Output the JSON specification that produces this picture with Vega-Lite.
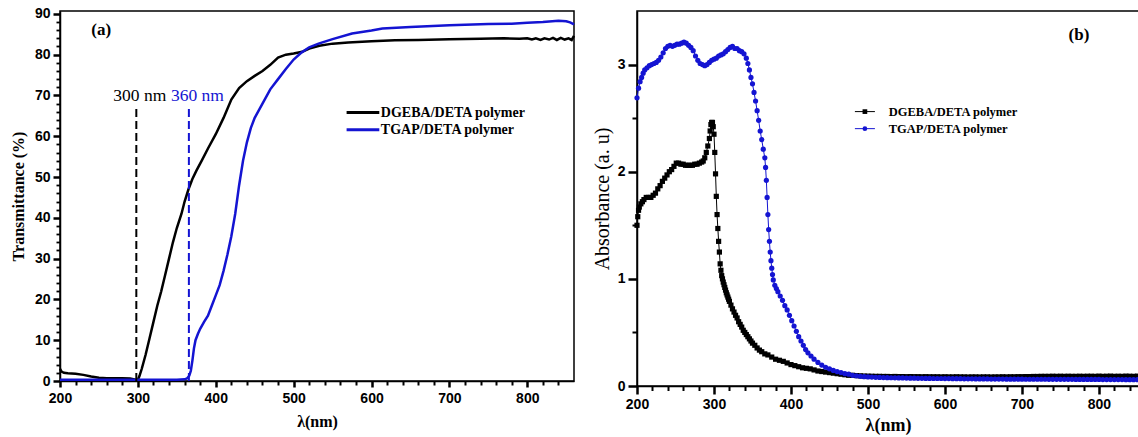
{
"$schema": "https://vega.github.io/schema/vega-lite/v6.json",
"padding": {"left": 9, "top": 6, "right": 0, "bottom": 0},
"spacing": 11,
"background": "white",
"config": {
  "view": {"stroke": "#000000", "strokeWidth": 1.5},
  "axis": {"grid": false, "ticks": true, "tickOpacity": 1, "labelFont": "Liberation Sans", "labelFontWeight": "bold", "labelFontSize": 14, "labelColor": "#000000", "tickColor": "#000000", "tickWidth": 2.5, "domainColor": "#000000", "domainWidth": 1.5, "titleColor": "#000000", "titleFont": "Liberation Serif", "labelOverlap": false, "labelFlush": false},
  "text": {"font": "Liberation Serif", "color": "#000000"}
},
"resolve": {"scale": {"color": "independent", "shape": "independent"}, "legend": {"color": "independent", "shape": "independent"}},
"datasets": {
"trans": [
{"w":200,"T":3.0,"s":"DGEBA"},{"w":202,"T":2.3,"s":"DGEBA"},{"w":205,"T":2.0,"s":"DGEBA"},{"w":210,"T":1.9,"s":"DGEBA"},{"w":220,"T":1.8,"s":"DGEBA"},{"w":230,"T":1.5,"s":"DGEBA"},{"w":240,"T":1.1,"s":"DGEBA"},{"w":250,"T":0.8,"s":"DGEBA"},{"w":260,"T":0.7,"s":"DGEBA"},{"w":270,"T":0.7,"s":"DGEBA"},{"w":280,"T":0.7,"s":"DGEBA"},{"w":290,"T":0.6,"s":"DGEBA"},{"w":296,"T":0.4,"s":"DGEBA"},{"w":300,"T":0.3,"s":"DGEBA"},{"w":302,"T":1.2,"s":"DGEBA"},{"w":305,"T":3.0,"s":"DGEBA"},{"w":310,"T":6.5,"s":"DGEBA"},{"w":315,"T":10.5,"s":"DGEBA"},{"w":320,"T":14.5,"s":"DGEBA"},{"w":325,"T":18.5,"s":"DGEBA"},{"w":330,"T":22,"s":"DGEBA"},{"w":335,"T":26,"s":"DGEBA"},{"w":340,"T":30,"s":"DGEBA"},{"w":345,"T":34,"s":"DGEBA"},{"w":350,"T":37.5,"s":"DGEBA"},{"w":356,"T":41,"s":"DGEBA"},{"w":360,"T":44,"s":"DGEBA"},{"w":365,"T":47,"s":"DGEBA"},{"w":370,"T":49.5,"s":"DGEBA"},{"w":375,"T":51.5,"s":"DGEBA"},{"w":382,"T":54,"s":"DGEBA"},{"w":390,"T":57,"s":"DGEBA"},{"w":400,"T":60.5,"s":"DGEBA"},{"w":410,"T":64.5,"s":"DGEBA"},{"w":420,"T":69,"s":"DGEBA"},{"w":430,"T":71.8,"s":"DGEBA"},{"w":440,"T":73.5,"s":"DGEBA"},{"w":450,"T":74.8,"s":"DGEBA"},{"w":460,"T":76,"s":"DGEBA"},{"w":470,"T":77.5,"s":"DGEBA"},{"w":480,"T":79.3,"s":"DGEBA"},{"w":490,"T":80,"s":"DGEBA"},{"w":500,"T":80.3,"s":"DGEBA"},{"w":511,"T":80.7,"s":"DGEBA"},{"w":520,"T":81.5,"s":"DGEBA"},{"w":533,"T":82.2,"s":"DGEBA"},{"w":550,"T":82.7,"s":"DGEBA"},{"w":570,"T":83,"s":"DGEBA"},{"w":600,"T":83.3,"s":"DGEBA"},{"w":630,"T":83.5,"s":"DGEBA"},{"w":660,"T":83.6,"s":"DGEBA"},{"w":700,"T":83.8,"s":"DGEBA"},{"w":740,"T":83.9,"s":"DGEBA"},{"w":770,"T":84,"s":"DGEBA"},{"w":790,"T":83.9,"s":"DGEBA"},{"w":800,"T":84,"s":"DGEBA"},{"w":806,"T":83.7,"s":"DGEBA"},{"w":811,"T":84.0,"s":"DGEBA"},{"w":817,"T":83.6,"s":"DGEBA"},{"w":822,"T":84.0,"s":"DGEBA"},{"w":828,"T":83.7,"s":"DGEBA"},{"w":833,"T":84.1,"s":"DGEBA"},{"w":838,"T":83.6,"s":"DGEBA"},{"w":843,"T":84.1,"s":"DGEBA"},{"w":848,"T":83.7,"s":"DGEBA"},{"w":853,"T":84.0,"s":"DGEBA"},{"w":857,"T":83.6,"s":"DGEBA"},{"w":860,"T":84.6,"s":"DGEBA"},
{"w":200,"T":0.3,"s":"TGAP"},{"w":250,"T":0.3,"s":"TGAP"},{"w":300,"T":0.3,"s":"TGAP"},{"w":350,"T":0.3,"s":"TGAP"},{"w":360,"T":0.4,"s":"TGAP"},{"w":363,"T":0.6,"s":"TGAP"},{"w":366,"T":1.3,"s":"TGAP"},{"w":368,"T":2.5,"s":"TGAP"},{"w":370,"T":5,"s":"TGAP"},{"w":372,"T":8,"s":"TGAP"},{"w":374,"T":10,"s":"TGAP"},{"w":377,"T":11.5,"s":"TGAP"},{"w":380,"T":12.8,"s":"TGAP"},{"w":385,"T":14.5,"s":"TGAP"},{"w":390,"T":16,"s":"TGAP"},{"w":395,"T":18.5,"s":"TGAP"},{"w":400,"T":21,"s":"TGAP"},{"w":405,"T":23.5,"s":"TGAP"},{"w":410,"T":27,"s":"TGAP"},{"w":415,"T":31,"s":"TGAP"},{"w":420,"T":35.5,"s":"TGAP"},{"w":425,"T":41,"s":"TGAP"},{"w":430,"T":48,"s":"TGAP"},{"w":435,"T":54,"s":"TGAP"},{"w":440,"T":58.5,"s":"TGAP"},{"w":445,"T":62,"s":"TGAP"},{"w":450,"T":64.5,"s":"TGAP"},{"w":460,"T":68,"s":"TGAP"},{"w":470,"T":71.5,"s":"TGAP"},{"w":480,"T":74,"s":"TGAP"},{"w":490,"T":76.5,"s":"TGAP"},{"w":500,"T":78.8,"s":"TGAP"},{"w":510,"T":80.5,"s":"TGAP"},{"w":520,"T":81.8,"s":"TGAP"},{"w":532,"T":82.7,"s":"TGAP"},{"w":550,"T":83.8,"s":"TGAP"},{"w":575,"T":85.2,"s":"TGAP"},{"w":600,"T":85.9,"s":"TGAP"},{"w":614,"T":86.4,"s":"TGAP"},{"w":650,"T":86.8,"s":"TGAP"},{"w":700,"T":87.2,"s":"TGAP"},{"w":750,"T":87.5,"s":"TGAP"},{"w":780,"T":87.6,"s":"TGAP"},{"w":800,"T":87.8,"s":"TGAP"},{"w":820,"T":88,"s":"TGAP"},{"w":840,"T":88.3,"s":"TGAP"},{"w":850,"T":88.2,"s":"TGAP"},{"w":855,"T":87.9,"s":"TGAP"},{"w":860,"T":87.4,"s":"TGAP"}
],
"cutoff": [{"w":298,"s":"DGEBA"},{"w":365.5,"s":"TGAP"}],
"abs": [
{"w":200,"A":1.50,"s":"DGEBA"},{"w":201,"A":1.58,"s":"DGEBA"},{"w":202,"A":1.64,"s":"DGEBA"},{"w":203,"A":1.67,"s":"DGEBA"},{"w":205,"A":1.70,"s":"DGEBA"},{"w":207,"A":1.72,"s":"DGEBA"},{"w":209,"A":1.74,"s":"DGEBA"},{"w":212,"A":1.76,"s":"DGEBA"},{"w":215,"A":1.76,"s":"DGEBA"},{"w":218,"A":1.76,"s":"DGEBA"},{"w":221,"A":1.78,"s":"DGEBA"},{"w":224,"A":1.80,"s":"DGEBA"},{"w":227,"A":1.84,"s":"DGEBA"},{"w":230,"A":1.87,"s":"DGEBA"},{"w":233,"A":1.91,"s":"DGEBA"},{"w":236,"A":1.94,"s":"DGEBA"},{"w":239,"A":1.97,"s":"DGEBA"},{"w":242,"A":2.00,"s":"DGEBA"},{"w":245,"A":2.02,"s":"DGEBA"},{"w":248,"A":2.05,"s":"DGEBA"},{"w":251,"A":2.08,"s":"DGEBA"},{"w":254,"A":2.08,"s":"DGEBA"},{"w":257,"A":2.07,"s":"DGEBA"},{"w":260,"A":2.07,"s":"DGEBA"},{"w":263,"A":2.06,"s":"DGEBA"},{"w":266,"A":2.06,"s":"DGEBA"},{"w":269,"A":2.06,"s":"DGEBA"},{"w":272,"A":2.06,"s":"DGEBA"},{"w":275,"A":2.07,"s":"DGEBA"},{"w":278,"A":2.07,"s":"DGEBA"},{"w":281,"A":2.08,"s":"DGEBA"},{"w":284,"A":2.09,"s":"DGEBA"},{"w":286,"A":2.10,"s":"DGEBA"},{"w":288,"A":2.13,"s":"DGEBA"},{"w":290,"A":2.18,"s":"DGEBA"},{"w":292,"A":2.24,"s":"DGEBA"},{"w":294,"A":2.31,"s":"DGEBA"},{"w":295,"A":2.38,"s":"DGEBA"},{"w":296,"A":2.44,"s":"DGEBA"},{"w":297,"A":2.46,"s":"DGEBA"},{"w":298,"A":2.46,"s":"DGEBA"},{"w":299,"A":2.42,"s":"DGEBA"},{"w":300,"A":2.35,"s":"DGEBA"},{"w":301,"A":2.18,"s":"DGEBA"},{"w":302,"A":1.98,"s":"DGEBA"},{"w":303,"A":1.77,"s":"DGEBA"},{"w":304,"A":1.60,"s":"DGEBA"},{"w":305,"A":1.47,"s":"DGEBA"},{"w":306,"A":1.35,"s":"DGEBA"},{"w":307,"A":1.25,"s":"DGEBA"},{"w":308,"A":1.14,"s":"DGEBA"},{"w":309,"A":1.08,"s":"DGEBA"},{"w":310,"A":1.03,"s":"DGEBA"},{"w":311,"A":1.00,"s":"DGEBA"},{"w":312,"A":0.97,"s":"DGEBA"},{"w":313,"A":0.945,"s":"DGEBA"},{"w":314,"A":0.92,"s":"DGEBA"},{"w":315,"A":0.895,"s":"DGEBA"},{"w":316,"A":0.87,"s":"DGEBA"},{"w":317,"A":0.85,"s":"DGEBA"},{"w":318,"A":0.83,"s":"DGEBA"},{"w":319,"A":0.81,"s":"DGEBA"},{"w":320,"A":0.79,"s":"DGEBA"},{"w":322,"A":0.755,"s":"DGEBA"},{"w":324,"A":0.72,"s":"DGEBA"},{"w":326,"A":0.69,"s":"DGEBA"},{"w":328,"A":0.66,"s":"DGEBA"},{"w":330,"A":0.635,"s":"DGEBA"},{"w":332,"A":0.60,"s":"DGEBA"},{"w":334,"A":0.575,"s":"DGEBA"},{"w":336,"A":0.55,"s":"DGEBA"},{"w":338,"A":0.52,"s":"DGEBA"},{"w":340,"A":0.50,"s":"DGEBA"},{"w":342,"A":0.48,"s":"DGEBA"},{"w":344,"A":0.46,"s":"DGEBA"},{"w":346,"A":0.44,"s":"DGEBA"},{"w":348,"A":0.42,"s":"DGEBA"},{"w":350,"A":0.40,"s":"DGEBA"},{"w":353,"A":0.38,"s":"DGEBA"},{"w":356,"A":0.355,"s":"DGEBA"},{"w":359,"A":0.335,"s":"DGEBA"},{"w":362,"A":0.32,"s":"DGEBA"},{"w":366,"A":0.30,"s":"DGEBA"},{"w":370,"A":0.29,"s":"DGEBA"},{"w":375,"A":0.27,"s":"DGEBA"},{"w":380,"A":0.25,"s":"DGEBA"},{"w":385,"A":0.24,"s":"DGEBA"},{"w":390,"A":0.23,"s":"DGEBA"},{"w":395,"A":0.215,"s":"DGEBA"},{"w":400,"A":0.20,"s":"DGEBA"},{"w":405,"A":0.19,"s":"DGEBA"},{"w":410,"A":0.18,"s":"DGEBA"},{"w":415,"A":0.17,"s":"DGEBA"},{"w":420,"A":0.165,"s":"DGEBA"},{"w":425,"A":0.16,"s":"DGEBA"},{"w":430,"A":0.15,"s":"DGEBA"},{"w":435,"A":0.14,"s":"DGEBA"},{"w":440,"A":0.135,"s":"DGEBA"},{"w":445,"A":0.13,"s":"DGEBA"},{"w":450,"A":0.125,"s":"DGEBA"},{"w":455,"A":0.12,"s":"DGEBA"},{"w":460,"A":0.115,"s":"DGEBA"},{"w":465,"A":0.11,"s":"DGEBA"},{"w":470,"A":0.105,"s":"DGEBA"},{"w":475,"A":0.10,"s":"DGEBA"},{"w":480,"A":0.10,"s":"DGEBA"},{"w":485,"A":0.097,"s":"DGEBA"},{"w":490,"A":0.095,"s":"DGEBA"},{"w":495,"A":0.093,"s":"DGEBA"},{"w":500,"A":0.092,"s":"DGEBA"},
{"w":505,"A":0.091,"s":"DGEBA"},{"w":510,"A":0.090,"s":"DGEBA"},{"w":515,"A":0.090,"s":"DGEBA"},{"w":520,"A":0.089,"s":"DGEBA"},{"w":525,"A":0.089,"s":"DGEBA"},{"w":530,"A":0.088,"s":"DGEBA"},{"w":535,"A":0.089,"s":"DGEBA"},{"w":540,"A":0.088,"s":"DGEBA"},{"w":545,"A":0.088,"s":"DGEBA"},{"w":550,"A":0.087,"s":"DGEBA"},{"w":555,"A":0.088,"s":"DGEBA"},{"w":560,"A":0.087,"s":"DGEBA"},{"w":565,"A":0.087,"s":"DGEBA"},{"w":570,"A":0.086,"s":"DGEBA"},{"w":575,"A":0.087,"s":"DGEBA"},{"w":580,"A":0.086,"s":"DGEBA"},{"w":585,"A":0.086,"s":"DGEBA"},{"w":590,"A":0.086,"s":"DGEBA"},{"w":595,"A":0.085,"s":"DGEBA"},{"w":600,"A":0.086,"s":"DGEBA"},{"w":605,"A":0.085,"s":"DGEBA"},{"w":610,"A":0.085,"s":"DGEBA"},{"w":615,"A":0.086,"s":"DGEBA"},{"w":620,"A":0.085,"s":"DGEBA"},{"w":625,"A":0.085,"s":"DGEBA"},{"w":630,"A":0.084,"s":"DGEBA"},{"w":635,"A":0.085,"s":"DGEBA"},{"w":640,"A":0.085,"s":"DGEBA"},{"w":645,"A":0.084,"s":"DGEBA"},{"w":650,"A":0.085,"s":"DGEBA"},{"w":655,"A":0.085,"s":"DGEBA"},{"w":660,"A":0.084,"s":"DGEBA"},{"w":665,"A":0.085,"s":"DGEBA"},{"w":670,"A":0.085,"s":"DGEBA"},{"w":675,"A":0.086,"s":"DGEBA"},{"w":680,"A":0.085,"s":"DGEBA"},{"w":685,"A":0.086,"s":"DGEBA"},{"w":690,"A":0.086,"s":"DGEBA"},{"w":695,"A":0.087,"s":"DGEBA"},{"w":700,"A":0.087,"s":"DGEBA"},{"w":705,"A":0.088,"s":"DGEBA"},{"w":710,"A":0.088,"s":"DGEBA"},{"w":715,"A":0.089,"s":"DGEBA"},{"w":720,"A":0.089,"s":"DGEBA"},{"w":725,"A":0.090,"s":"DGEBA"},{"w":730,"A":0.090,"s":"DGEBA"},{"w":735,"A":0.090,"s":"DGEBA"},{"w":740,"A":0.091,"s":"DGEBA"},{"w":745,"A":0.090,"s":"DGEBA"},{"w":750,"A":0.091,"s":"DGEBA"},{"w":755,"A":0.090,"s":"DGEBA"},{"w":760,"A":0.091,"s":"DGEBA"},{"w":765,"A":0.090,"s":"DGEBA"},{"w":770,"A":0.090,"s":"DGEBA"},{"w":775,"A":0.091,"s":"DGEBA"},{"w":780,"A":0.090,"s":"DGEBA"},{"w":785,"A":0.091,"s":"DGEBA"},{"w":790,"A":0.091,"s":"DGEBA"},{"w":795,"A":0.090,"s":"DGEBA"},{"w":800,"A":0.092,"s":"DGEBA"},{"w":805,"A":0.090,"s":"DGEBA"},{"w":810,"A":0.091,"s":"DGEBA"},{"w":815,"A":0.092,"s":"DGEBA"},{"w":820,"A":0.090,"s":"DGEBA"},{"w":825,"A":0.091,"s":"DGEBA"},{"w":830,"A":0.090,"s":"DGEBA"},{"w":835,"A":0.092,"s":"DGEBA"},{"w":840,"A":0.091,"s":"DGEBA"},{"w":845,"A":0.090,"s":"DGEBA"},{"w":850,"A":0.092,"s":"DGEBA"},
{"w":200,"A":2.69,"s":"TGAP"},{"w":202,"A":2.78,"s":"TGAP"},{"w":204,"A":2.84,"s":"TGAP"},{"w":206,"A":2.88,"s":"TGAP"},{"w":208,"A":2.92,"s":"TGAP"},{"w":210,"A":2.95,"s":"TGAP"},{"w":213,"A":2.97,"s":"TGAP"},{"w":216,"A":2.99,"s":"TGAP"},{"w":219,"A":3.00,"s":"TGAP"},{"w":222,"A":3.01,"s":"TGAP"},{"w":225,"A":3.02,"s":"TGAP"},{"w":228,"A":3.04,"s":"TGAP"},{"w":231,"A":3.07,"s":"TGAP"},{"w":234,"A":3.11,"s":"TGAP"},{"w":237,"A":3.15,"s":"TGAP"},{"w":240,"A":3.17,"s":"TGAP"},{"w":243,"A":3.18,"s":"TGAP"},{"w":246,"A":3.17,"s":"TGAP"},{"w":249,"A":3.18,"s":"TGAP"},{"w":252,"A":3.19,"s":"TGAP"},{"w":255,"A":3.19,"s":"TGAP"},{"w":258,"A":3.20,"s":"TGAP"},{"w":261,"A":3.21,"s":"TGAP"},{"w":264,"A":3.20,"s":"TGAP"},{"w":267,"A":3.18,"s":"TGAP"},{"w":270,"A":3.16,"s":"TGAP"},{"w":273,"A":3.13,"s":"TGAP"},{"w":276,"A":3.08,"s":"TGAP"},{"w":279,"A":3.04,"s":"TGAP"},{"w":282,"A":3.01,"s":"TGAP"},{"w":285,"A":3.00,"s":"TGAP"},{"w":288,"A":2.99,"s":"TGAP"},{"w":291,"A":3.00,"s":"TGAP"},{"w":294,"A":3.02,"s":"TGAP"},{"w":297,"A":3.04,"s":"TGAP"},{"w":300,"A":3.05,"s":"TGAP"},{"w":303,"A":3.06,"s":"TGAP"},{"w":306,"A":3.08,"s":"TGAP"},{"w":309,"A":3.09,"s":"TGAP"},{"w":312,"A":3.10,"s":"TGAP"},{"w":315,"A":3.12,"s":"TGAP"},{"w":318,"A":3.14,"s":"TGAP"},{"w":321,"A":3.16,"s":"TGAP"},{"w":324,"A":3.17,"s":"TGAP"},{"w":327,"A":3.15,"s":"TGAP"},{"w":330,"A":3.15,"s":"TGAP"},{"w":333,"A":3.13,"s":"TGAP"},{"w":336,"A":3.12,"s":"TGAP"},{"w":339,"A":3.10,"s":"TGAP"},{"w":342,"A":3.06,"s":"TGAP"},{"w":344,"A":3.01,"s":"TGAP"},{"w":346,"A":2.95,"s":"TGAP"},{"w":348,"A":2.88,"s":"TGAP"},{"w":350,"A":2.82,"s":"TGAP"},{"w":352,"A":2.74,"s":"TGAP"},{"w":354,"A":2.66,"s":"TGAP"},{"w":356,"A":2.57,"s":"TGAP"},{"w":358,"A":2.48,"s":"TGAP"},{"w":360,"A":2.38,"s":"TGAP"},{"w":362,"A":2.30,"s":"TGAP"},{"w":364,"A":2.21,"s":"TGAP"},{"w":366,"A":2.13,"s":"TGAP"},{"w":367,"A":2.04,"s":"TGAP"},{"w":368,"A":1.92,"s":"TGAP"},{"w":369,"A":1.76,"s":"TGAP"},{"w":370,"A":1.60,"s":"TGAP"},{"w":371,"A":1.46,"s":"TGAP"},{"w":372,"A":1.35,"s":"TGAP"},{"w":373,"A":1.25,"s":"TGAP"},{"w":374,"A":1.17,"s":"TGAP"},{"w":375,"A":1.10,"s":"TGAP"},{"w":376,"A":1.04,"s":"TGAP"},{"w":377,"A":0.99,"s":"TGAP"},{"w":379,"A":0.94,"s":"TGAP"},{"w":381,"A":0.91,"s":"TGAP"},{"w":383,"A":0.88,"s":"TGAP"},{"w":386,"A":0.84,"s":"TGAP"},{"w":389,"A":0.80,"s":"TGAP"},{"w":392,"A":0.75,"s":"TGAP"},{"w":395,"A":0.71,"s":"TGAP"},{"w":398,"A":0.66,"s":"TGAP"},{"w":401,"A":0.61,"s":"TGAP"},{"w":404,"A":0.56,"s":"TGAP"},{"w":407,"A":0.51,"s":"TGAP"},{"w":410,"A":0.46,"s":"TGAP"},{"w":413,"A":0.42,"s":"TGAP"},{"w":416,"A":0.38,"s":"TGAP"},{"w":419,"A":0.34,"s":"TGAP"},{"w":422,"A":0.31,"s":"TGAP"},{"w":426,"A":0.28,"s":"TGAP"},{"w":430,"A":0.25,"s":"TGAP"},{"w":435,"A":0.22,"s":"TGAP"},{"w":440,"A":0.195,"s":"TGAP"},{"w":445,"A":0.175,"s":"TGAP"},{"w":450,"A":0.16,"s":"TGAP"},{"w":455,"A":0.145,"s":"TGAP"},{"w":460,"A":0.135,"s":"TGAP"},{"w":465,"A":0.125,"s":"TGAP"},{"w":470,"A":0.115,"s":"TGAP"},{"w":475,"A":0.11,"s":"TGAP"},{"w":480,"A":0.10,"s":"TGAP"},{"w":485,"A":0.095,"s":"TGAP"},{"w":490,"A":0.09,"s":"TGAP"},{"w":495,"A":0.087,"s":"TGAP"},{"w":500,"A":0.085,"s":"TGAP"},
{"w":505,"A":0.083,"s":"TGAP"},{"w":510,"A":0.081,"s":"TGAP"},{"w":515,"A":0.080,"s":"TGAP"},{"w":520,"A":0.079,"s":"TGAP"},{"w":525,"A":0.078,"s":"TGAP"},{"w":530,"A":0.077,"s":"TGAP"},{"w":535,"A":0.076,"s":"TGAP"},{"w":540,"A":0.075,"s":"TGAP"},{"w":545,"A":0.075,"s":"TGAP"},{"w":550,"A":0.074,"s":"TGAP"},{"w":555,"A":0.073,"s":"TGAP"},{"w":560,"A":0.073,"s":"TGAP"},{"w":565,"A":0.072,"s":"TGAP"},{"w":570,"A":0.072,"s":"TGAP"},{"w":575,"A":0.071,"s":"TGAP"},{"w":580,"A":0.071,"s":"TGAP"},{"w":585,"A":0.070,"s":"TGAP"},{"w":590,"A":0.070,"s":"TGAP"},{"w":595,"A":0.070,"s":"TGAP"},{"w":600,"A":0.069,"s":"TGAP"},{"w":605,"A":0.069,"s":"TGAP"},{"w":610,"A":0.068,"s":"TGAP"},{"w":615,"A":0.068,"s":"TGAP"},{"w":620,"A":0.068,"s":"TGAP"},{"w":625,"A":0.067,"s":"TGAP"},{"w":630,"A":0.067,"s":"TGAP"},{"w":635,"A":0.067,"s":"TGAP"},{"w":640,"A":0.066,"s":"TGAP"},{"w":645,"A":0.066,"s":"TGAP"},{"w":650,"A":0.066,"s":"TGAP"},{"w":655,"A":0.066,"s":"TGAP"},{"w":660,"A":0.065,"s":"TGAP"},{"w":665,"A":0.065,"s":"TGAP"},{"w":670,"A":0.065,"s":"TGAP"},{"w":675,"A":0.065,"s":"TGAP"},{"w":680,"A":0.064,"s":"TGAP"},{"w":685,"A":0.064,"s":"TGAP"},{"w":690,"A":0.064,"s":"TGAP"},{"w":695,"A":0.064,"s":"TGAP"},{"w":700,"A":0.064,"s":"TGAP"},{"w":705,"A":0.063,"s":"TGAP"},{"w":710,"A":0.063,"s":"TGAP"},{"w":715,"A":0.063,"s":"TGAP"},{"w":720,"A":0.063,"s":"TGAP"},{"w":725,"A":0.063,"s":"TGAP"},{"w":730,"A":0.063,"s":"TGAP"},{"w":735,"A":0.062,"s":"TGAP"},{"w":740,"A":0.062,"s":"TGAP"},{"w":745,"A":0.062,"s":"TGAP"},{"w":750,"A":0.062,"s":"TGAP"},{"w":755,"A":0.062,"s":"TGAP"},{"w":760,"A":0.062,"s":"TGAP"},{"w":765,"A":0.062,"s":"TGAP"},{"w":770,"A":0.061,"s":"TGAP"},{"w":775,"A":0.061,"s":"TGAP"},{"w":780,"A":0.061,"s":"TGAP"},{"w":785,"A":0.061,"s":"TGAP"},{"w":790,"A":0.061,"s":"TGAP"},{"w":795,"A":0.061,"s":"TGAP"},{"w":800,"A":0.061,"s":"TGAP"},{"w":805,"A":0.060,"s":"TGAP"},{"w":810,"A":0.060,"s":"TGAP"},{"w":815,"A":0.060,"s":"TGAP"},{"w":820,"A":0.060,"s":"TGAP"},{"w":825,"A":0.060,"s":"TGAP"},{"w":830,"A":0.060,"s":"TGAP"},{"w":835,"A":0.059,"s":"TGAP"},{"w":840,"A":0.059,"s":"TGAP"},{"w":845,"A":0.059,"s":"TGAP"},{"w":850,"A":0.059,"s":"TGAP"}
]
},
"hconcat": [
{
  "width": 514, "height": 370,
  "resolve": {"axis": {"x": "independent", "y": "independent"}},
  "layer": [
    {
      "data": {"name": "trans"},
      "mark": {"type": "line", "strokeWidth": 2.5},
      "encoding": {
        "x": {"field": "w", "type": "quantitative", "title": "λ(nm)",
              "scale": {"domain": [200, 860], "nice": false, "zero": false},
              "axis": {"orient": "bottom", "values": [200,300,400,500,600,700,800], "ticks": true, "tickSize": 6, "tickColor": "#000000", "tickWidth": 2.5,
                       "labelPadding": 4, "titleFontWeight": "bold", "titleFontSize": 16, "titlePadding": 8}},
        "y": {"field": "T", "type": "quantitative", "title": "Transmittance (%)",
              "scale": {"domain": [0, 90.7], "nice": false},
              "axis": {"orient": "left", "values": [0,10,20,30,40,50,60,70,80,90], "ticks": true, "tickSize": 7, "tickColor": "#000000", "tickWidth": 2.5,
                       "labelPadding": 3, "titleFontWeight": "bold", "titleFontSize": 16, "titlePadding": 8}},
        "color": {"field": "s", "type": "nominal",
                  "scale": {"domain": ["DGEBA", "TGAP"], "range": ["#000000", "#1414d2"]}, "legend": null}
      }
    },
    {
      "data": {"name": "cutoff"},
      "mark": {"type": "rule", "strokeDash": [8, 4], "strokeWidth": 2},
      "encoding": {
        "x": {"field": "w", "type": "quantitative",
              "axis": {"orient": "bottom", "values": [220,240,260,280,320,340,360,380,420,440,460,480,520,540,560,580,620,640,660,680,720,740,760,780,820,840], "ticks": true, "tickSize": 4, "tickColor": "#000000", "tickWidth": 2, "labels": false, "domain": false, "title": null}},
        "y": {"datum": 0,
              "axis": {"orient": "left", "values": [2,4,6,8,12,14,16,18,22,24,26,28,32,34,36,38,42,44,46,48,52,54,56,58,62,64,66,68,72,74,76,78,82,84,86,88], "ticks": true, "tickSize": 4, "tickColor": "#000000", "tickWidth": 1.8, "labels": false, "domain": false, "title": null}},
        "y2": {"datum": 67},
        "color": {"field": "s", "type": "nominal", "legend": null}
      }
    },
    {
      "data": {"values": [{}]},
      "mark": {"type": "text", "text": "300 nm", "fontSize": 17.5, "align": "center", "baseline": "middle", "color": "#000000"},
      "encoding": {"x": {"datum": 302.5, "axis": null}, "y": {"datum": 69.8, "axis": null}}
    },
    {
      "data": {"values": [{}]},
      "mark": {"type": "text", "text": "360 nm", "fontSize": 17.5, "align": "center", "baseline": "middle", "color": "#1414d2"},
      "encoding": {"x": {"datum": 376.5, "axis": null}, "y": {"datum": 69.8, "axis": null}}
    },
    {
      "data": {"values": [{}]},
      "mark": {"type": "text", "text": "(a)", "fontSize": 17, "fontWeight": "bold", "align": "center", "baseline": "middle", "color": "#000000"},
      "encoding": {"x": {"datum": 253, "axis": null}, "y": {"datum": 86, "axis": null}}
    },
    {
      "data": {"values": [{}]},
      "mark": {"type": "rule", "color": "#000000", "strokeWidth": 3},
      "encoding": {"x": {"datum": 568, "axis": null}, "x2": {"datum": 610}, "y": {"datum": 65.8, "axis": null}}
    },
    {
      "data": {"values": [{}]},
      "mark": {"type": "rule", "color": "#1414d2", "strokeWidth": 3},
      "encoding": {"x": {"datum": 568, "axis": null}, "x2": {"datum": 610}, "y": {"datum": 61.6, "axis": null}}
    },
    {
      "data": {"values": [{}]},
      "mark": {"type": "text", "text": "DGEBA/DETA polymer", "fontSize": 14, "fontWeight": "bold", "align": "left", "baseline": "middle", "color": "#000000"},
      "encoding": {"x": {"datum": 612, "axis": null}, "y": {"datum": 65.8, "axis": null}}
    },
    {
      "data": {"values": [{}]},
      "mark": {"type": "text", "text": "TGAP/DETA polymer", "fontSize": 14, "fontWeight": "bold", "align": "left", "baseline": "middle", "color": "#000000"},
      "encoding": {"x": {"datum": 612, "axis": null}, "y": {"datum": 61.6, "axis": null}}
    }
  ]
},
{
  "width": 502, "height": 375,
  "resolve": {"axis": {"x": "independent", "y": "independent"}},
  "layer": [
    {
      "data": {"name": "abs"},
      "mark": {"type": "line", "strokeWidth": 1},
      "encoding": {
        "x": {"field": "w", "type": "quantitative", "title": "λ(nm)",
              "scale": {"domain": [200, 852], "nice": false, "zero": false},
              "axis": {"orient": "bottom", "values": [200,300,400,500,600,700,800], "ticks": true, "tickSize": 8, "tickColor": "#000000", "tickWidth": 2.5,
                       "labelPadding": 3, "titleFontWeight": "bold", "titleFontSize": 18, "titlePadding": 5}},
        "y": {"field": "A", "type": "quantitative", "title": "Absorbance (a. u)",
              "scale": {"domain": [0, 3.5], "nice": false},
              "axis": {"orient": "left", "values": [0, 1, 2, 3], "format": "d", "ticks": true, "tickSize": 9, "tickColor": "#000000", "tickWidth": 2.5,
                       "labelPadding": 3, "titleFontWeight": "normal", "titleFontSize": 20, "titlePadding": 5}},
        "color": {"field": "s", "type": "nominal",
                  "scale": {"domain": ["DGEBA", "TGAP"], "range": ["#000000", "#1414d2"]}, "legend": null}
      }
    },
    {
      "data": {"name": "abs"},
      "mark": {"type": "point", "filled": true, "size": 27, "opacity": 1},
      "encoding": {
        "x": {"field": "w", "type": "quantitative",
              "axis": {"orient": "bottom", "values": [220,240,260,280,320,340,360,380,420,440,460,480,520,540,560,580,620,640,660,680,720,740,760,780,820,840], "ticks": true, "tickSize": 4.5, "tickColor": "#000000", "tickWidth": 2, "labels": false, "domain": false, "title": null}},
        "y": {"field": "A", "type": "quantitative",
              "axis": {"orient": "left", "values": [0.5, 1.5, 2.5], "ticks": true, "tickSize": 5, "tickColor": "#000000", "tickWidth": 2, "labels": false, "domain": false, "title": null}},
        "color": {"field": "s", "type": "nominal", "legend": null},
        "shape": {"field": "s", "type": "nominal", "scale": {"domain": ["DGEBA", "TGAP"], "range": ["square", "circle"]}, "legend": null}
      }
    },
    {
      "data": {"values": [{}]},
      "mark": {"type": "rule", "color": "#000000", "strokeWidth": 1},
      "encoding": {"x": {"datum": 483, "axis": null}, "x2": {"datum": 509}, "y": {"datum": 2.561, "axis": null}}
    },
    {
      "data": {"values": [{}]},
      "mark": {"type": "point", "shape": "square", "filled": true, "size": 22, "opacity": 1, "color": "#000000"},
      "encoding": {"x": {"datum": 496, "axis": null}, "y": {"datum": 2.561, "axis": null}}
    },
    {
      "data": {"values": [{}]},
      "mark": {"type": "rule", "color": "#1414d2", "strokeWidth": 1},
      "encoding": {"x": {"datum": 483, "axis": null}, "x2": {"datum": 509}, "y": {"datum": 2.402, "axis": null}}
    },
    {
      "data": {"values": [{}]},
      "mark": {"type": "point", "shape": "circle", "filled": true, "size": 22, "opacity": 1, "color": "#1414d2"},
      "encoding": {"x": {"datum": 496, "axis": null}, "y": {"datum": 2.402, "axis": null}}
    },
    {
      "data": {"values": [{}]},
      "mark": {"type": "text", "text": "DGEBA/DETA polymer", "fontSize": 12.5, "fontWeight": "bold", "align": "left", "baseline": "middle", "color": "#000000"},
      "encoding": {"x": {"datum": 527, "axis": null}, "y": {"datum": 2.561, "axis": null}}
    },
    {
      "data": {"values": [{}]},
      "mark": {"type": "text", "text": "TGAP/DETA polymer", "fontSize": 12.5, "fontWeight": "bold", "align": "left", "baseline": "middle", "color": "#000000"},
      "encoding": {"x": {"datum": 527, "axis": null}, "y": {"datum": 2.402, "axis": null}}
    },
    {
      "data": {"values": [{}]},
      "mark": {"type": "text", "text": "(b)", "fontSize": 17, "fontWeight": "bold", "align": "center", "baseline": "middle", "color": "#000000"},
      "encoding": {"x": {"datum": 774, "axis": null}, "y": {"datum": 3.28, "axis": null}}
    }
  ]
}
]
}
